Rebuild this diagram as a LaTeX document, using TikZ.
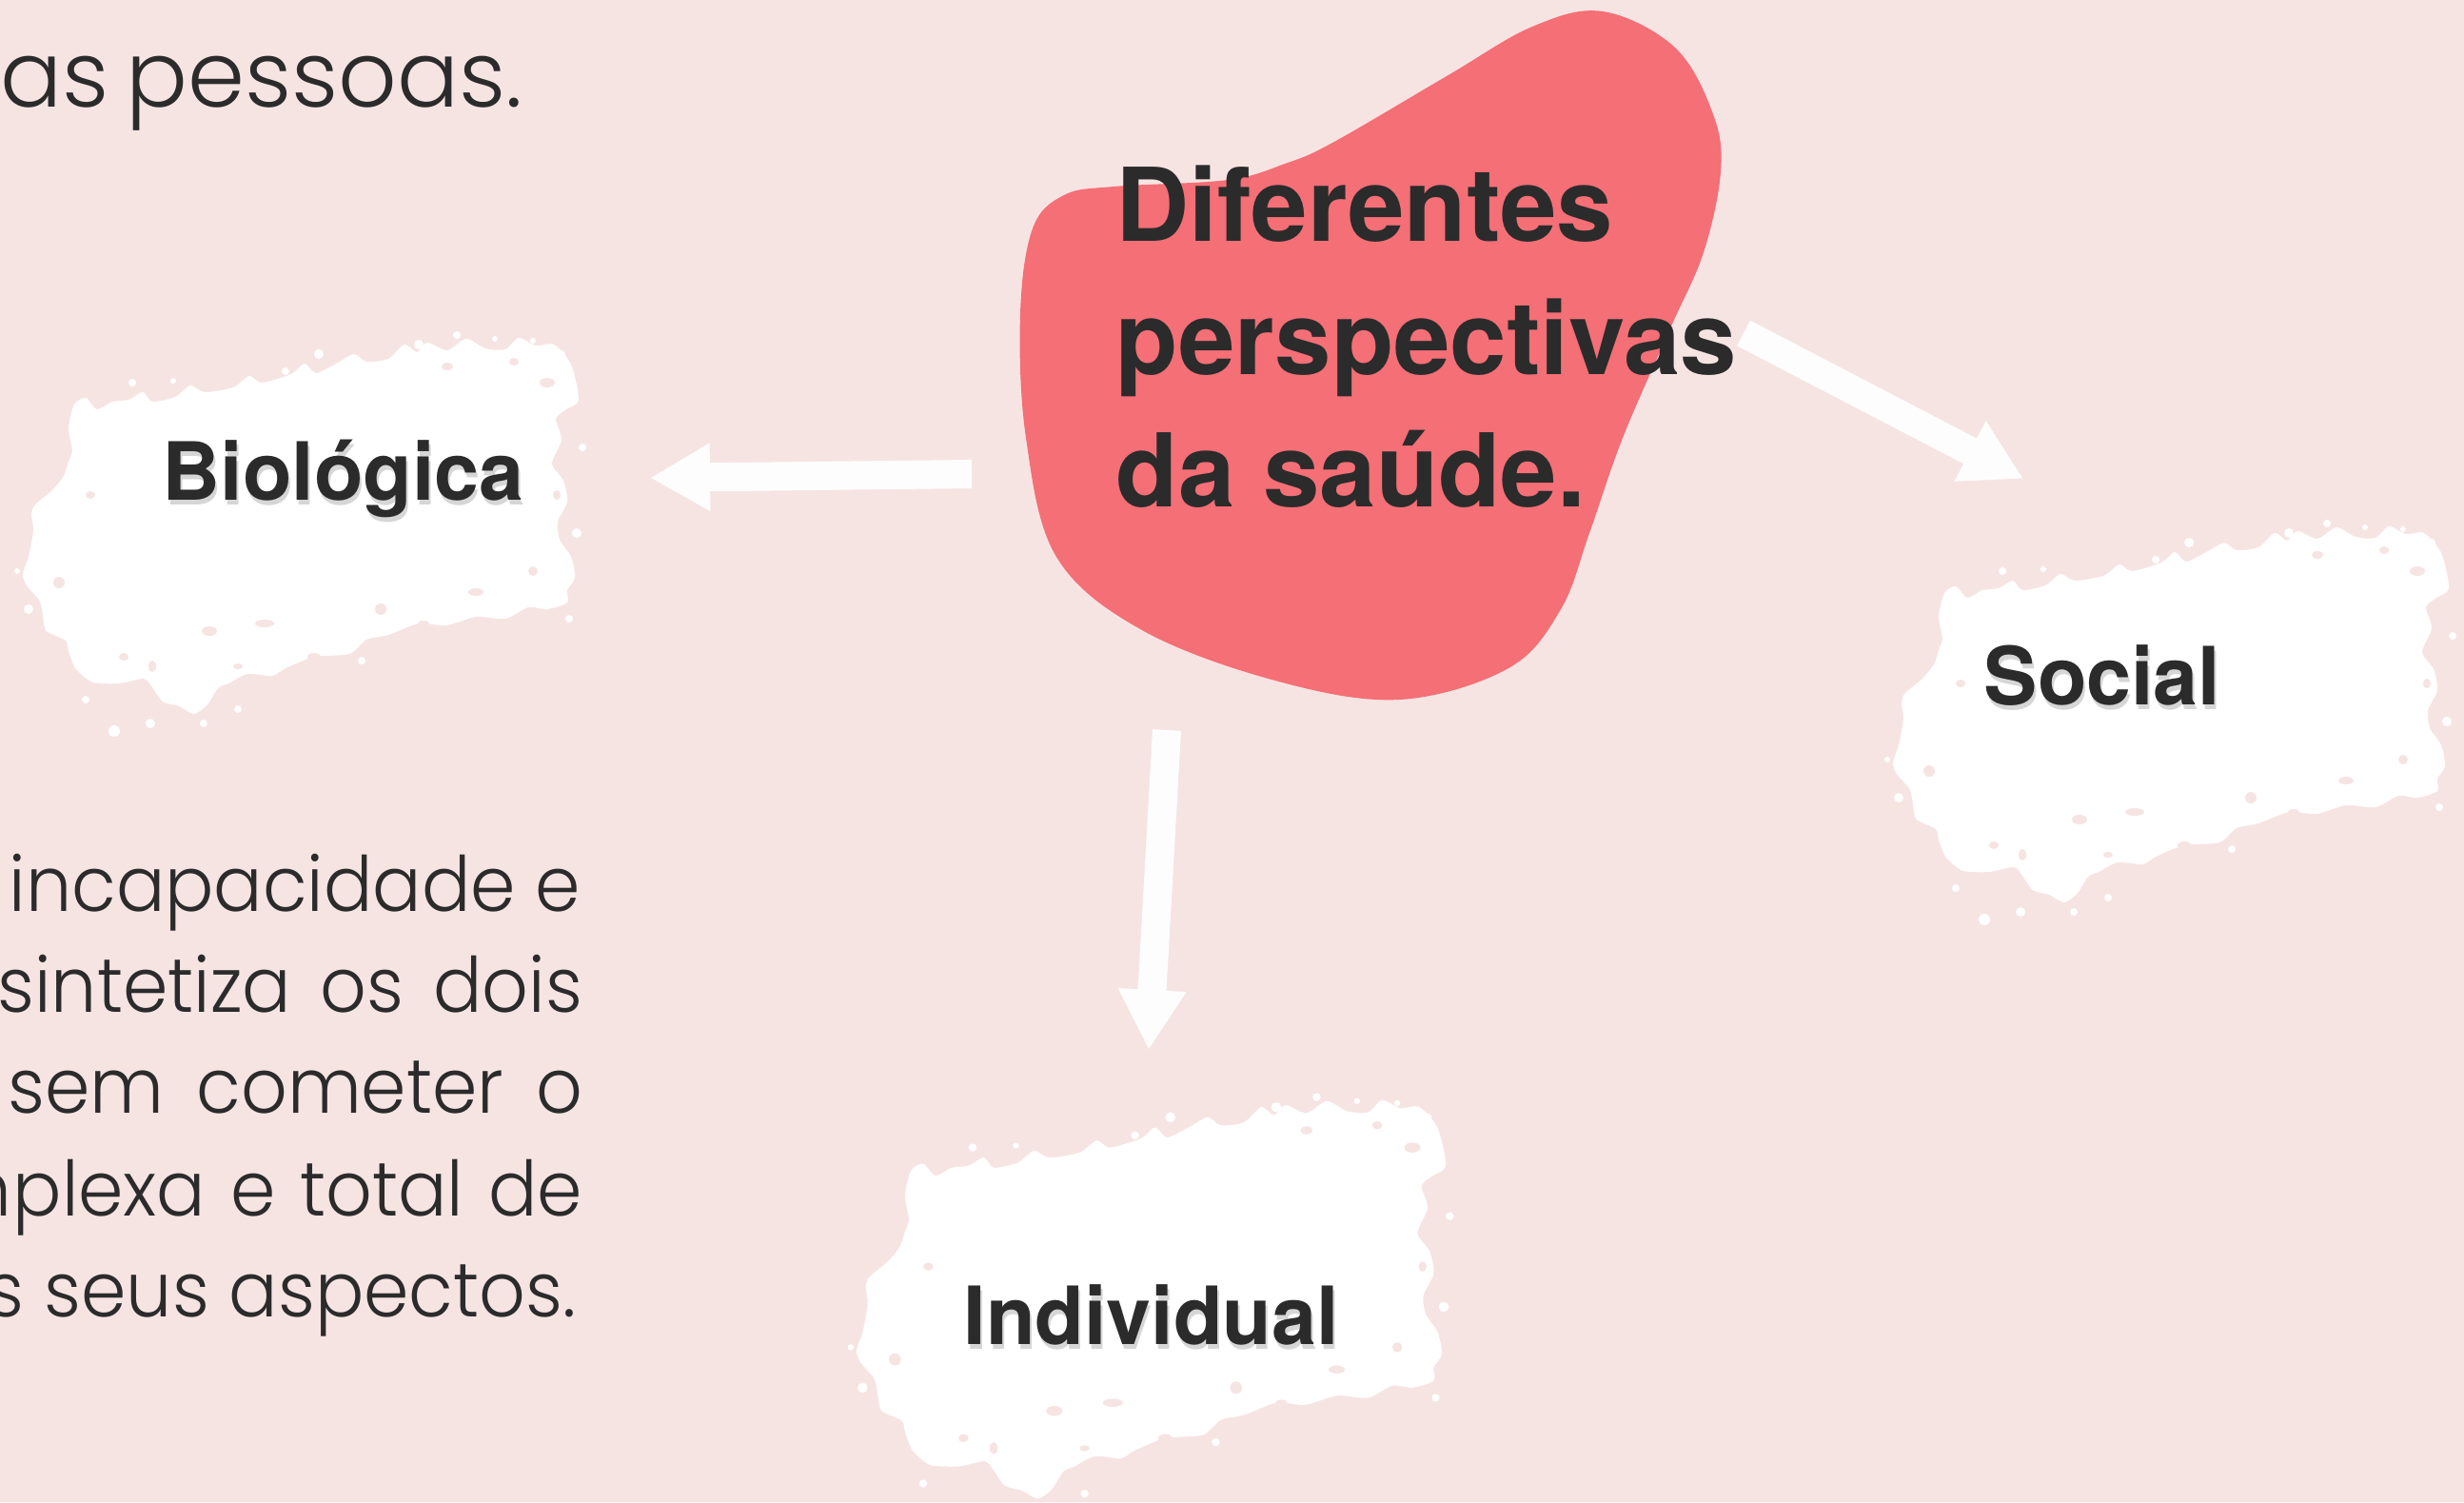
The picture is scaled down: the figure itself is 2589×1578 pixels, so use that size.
\documentclass[tikz,border=0pt]{standalone}
\usepackage{fontspec}
\setmainfont{TeX Gyre Heros}
\IfFontExistsTF{Poppins Light}{\newfontfamily\bodyfont{Poppins Light}}{\newfontfamily\bodyfont{Poppins}}
\usetikzlibrary{arrows.meta}
\definecolor{bgpink}{HTML}{F6E4E3}
\definecolor{blobred}{HTML}{F46F76}
\definecolor{ink}{HTML}{2B2B2B}
\definecolor{paper}{HTML}{FDFDFD}
\newcommand\sqline[2]{\scalebox{0.95}[1]{\makebox[#1][s]{#2}}}
\newcommand\sqnat[1]{\scalebox{0.95}[1]{#1}}
\newcommand\brushblob{%
  \fill[white] plot[smooth cycle, tension=0.45] coordinates {
    (78,425) (90,418) (102,430) (118,422) (135,420) (150,412) (160,422) (184,417)
    (200,405) (215,412) (245,407) (262,395) (275,402) (306,393) (320,382) (332,392)
    (355,381) (372,372) (385,380) (408,377) (425,362) (438,370) (449,360) (470,368)
    (490,356) (510,366) (531,367) (545,355) (563,363) (582,362) (600,383)
    (608,420) (595,430) (584,440) (590,462) (580,487) (592,505) (596,527) (586,548)
    (588,567) (600,585) (604,607) (596,620) (596,633)
    (575,640) (555,638) (531,650) (500,648) (469,657) (440,655) (408,667) (385,672)
    (367,687) (330,690) (300,702) (286,710) (260,708) (240,718) (229,723) (218,740)
    (204,750) (188,742) (171,737) (160,722) (151,713) (125,718) (98,717) (85,708)
    (78,700) (72,684) (69,673) (52,665) (47,660) (44,640) (41,630) (28,615) (24,603)
    (30,585) (35,557) (33,540) (37,530) (55,515) (67,500) (72,485) (76,473) (72,450)};
  \foreach \px/\py/\r in {139/402/4, 182/400/3, 335/372/5, 480/352/4, 520/356/3,
      120/768/6, 158/760/5, 250/745/4, 30/640/5, 18/600/3, 612/470/4, 606/560/5,
      598/650/4, 300/390/4, 440/362/5, 90/735/4, 60/520/4, 214/760/4, 380/694/4,
      560/358/3, 590/372/4}
    \fill[white] (\px,\py) circle[radius=\r];
  \foreach \px/\py/\a/\b in {220/663/8/5, 278/655/10/4, 400/640/6/6, 500/622/8/4,
      560/600/5/5, 62/612/6/6, 575/402/8/5, 470/385/6/4, 130/690/5/4, 330/690/7/4,
      540/380/5/4, 95/520/5/4, 160/700/4/6, 250/700/5/3, 445/655/6/3, 585/520/4/5}
    \fill[bgpink] (\px,\py) ellipse[x radius=\a, y radius=\b];
}
\tikzset{
  ttl/.style={font=\fontsize{30.4}{36}\selectfont\bfseries, text=ink, inner sep=0, anchor=base west},
  lbl/.style={font=\fontsize{24}{28}\selectfont\bfseries, text=ink, inner sep=0, anchor=base west},
  shd/.style={font=\fontsize{24}{28}\selectfont\bfseries, text=black, opacity=0.16, inner sep=0, anchor=base west},
  body/.style={font=\bodyfont\fontsize{22.8}{27}\selectfont, text=ink, inner sep=0},
  bodytop/.style={font=\bodyfont\fontsize{27.4}{32}\selectfont, text=ink, inner sep=0},
  blockarrow/.style={draw=paper, line width=0.3cm, line cap=butt,
     -{Triangle[length=0.63cm,width=0.67cm]}}
}
\begin{document}
\begin{tikzpicture}[x=0.01cm, y=-0.01cm]
\useasboundingbox (0,0) rectangle (2589,1578);
\clip (0,0) rectangle (2589,1578);
\fill[bgpink] (0,0) rectangle (2589,1578);

% top text fragment
\node[bodytop, anchor=base west] (top) at (0,112) {\makebox[5.45cm][s]{as pessoas.}};

% body paragraph (right part)
\node[body, anchor=base east] (b1) at (611,957) {\sqnat{incapacidade e}};
\node[body, anchor=base west] (b2) at (-3,1063) {\sqline{6.463cm}{sintetiza os dois}};
\node[body, anchor=base west] (b3) at (8,1169) {\sqline{6.347cm}{sem cometer o}};
\node[body, anchor=base east] (b4a) at (13,1277) {\sqnat{m}};
\node[body, anchor=base west] (b4) at (13,1277) {\sqline{6.295cm}{plexa e total de}};
\node[body, anchor=base east] (b5) at (606,1383) {\sqnat{os seus aspectos.}};

% central blob
\fill[blobred] plot[smooth cycle, tension=0.6] coordinates {
  (1684,12) (1760,50) (1800,120) (1808,180) (1790,265) (1755,345) (1705,460)
  (1670,560) (1640,640) (1585,702) (1470,735) (1340,715) (1200,662)
  (1110,585) (1078,460) (1072,330) (1085,240) (1118,205) (1170,196)
  (1290,189) (1350,172) (1400,150) (1520,80) (1610,28)};

% brushes
\begin{scope}
  \brushblob
\end{scope}
\begin{scope}[shift={(1965,198)}]
  \brushblob
\end{scope}
\begin{scope}[shift={(874.6,779.4)}, scale=1.06]
  \brushblob
\end{scope}

% title
\node[ttl] (title1) at (1172,253) {Diferentes};
\node[ttl] (title2) at (1172,393) {perspectivas};
\node[ttl] (title3) at (1172,532) {da saúde.};

% labels with soft shadow
\node[shd] at (172,530) {Biológica};
\node[lbl] (bio) at (170,525) {Biológica};
\node[shd] at (2086,745) {Social};
\node[lbl] (soc) at (2084,740) {Social};
\node[shd] at (1014,1417) {Individual};
\node[lbl] (ind) at (1012,1412) {Individual};

% arrows
\coordinate (la) at (1021,498);
\coordinate (lb) at (683,502);
\coordinate (ra) at (1832,350);
\coordinate (rb) at (2126,503);
\coordinate (da) at (1226,767);
\coordinate (db) at (1207,1103);
\draw[blockarrow] (la) -- (lb);
\draw[blockarrow] (ra) -- (rb);
\draw[blockarrow] (da) -- (db);
\end{tikzpicture}
\end{document}
